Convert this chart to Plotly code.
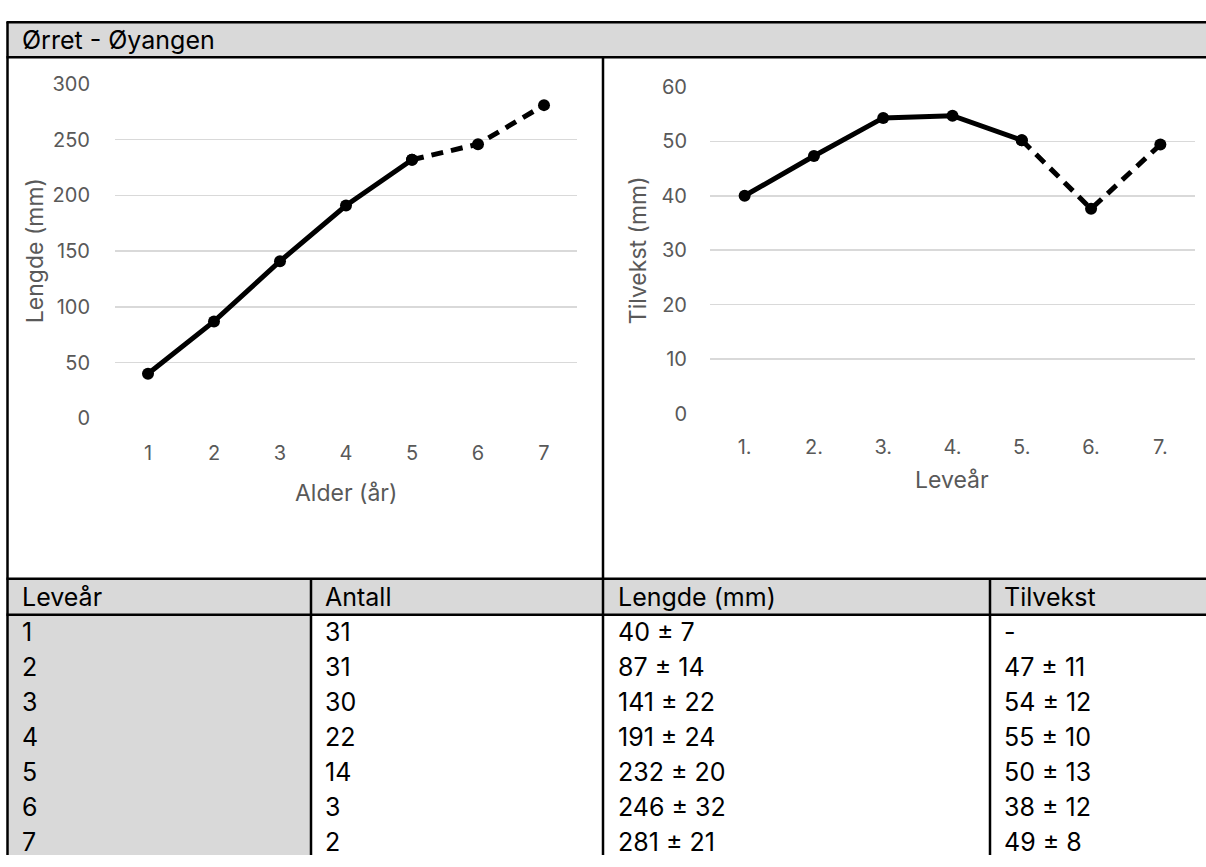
import plotly.graph_objects as go

# ---------------- data ----------------
title_text = "Ørret - Øyangen"
ages = [1, 2, 3, 4, 5, 6, 7]
age_labels = ["1", "2", "3", "4", "5", "6", "7"]
year_labels = ["1.", "2.", "3.", "4.", "5.", "6.", "7."]
length_mm = [40, 87, 141, 191, 232, 246, 281]
growth_mm = [40, 47.3, 54.3, 54.7, 50.2, 37.6, 49.4]
solid_n = 5  # first five points drawn solid, rest dashed

length_ticks = [0, 50, 100, 150, 200, 250, 300]
growth_ticks = [0, 10, 20, 30, 40, 50, 60]

table_header = ["Leveår", "Antall", "Lengde (mm)", "Tilvekst"]
col_year = ["1", "2", "3", "4", "5", "6", "7"]
col_count = ["31", "31", "30", "22", "14", "3", "2"]
col_length = ["40 ± 7", "87 ± 14", "141 ± 22", "191 ± 24", "232 ± 20", "246 ± 32", "281 ± 21"]
col_growth = ["-", "47 ± 11", "54 ± 12", "55 ± 10", "50 ± 13", "38 ± 12", "49 ± 8"]

# ---------------- layout helpers ----------------
W, H = 1206, 867
def X(px):
    return px / W
def Y(py):
    return 1 - py / H

GRID = "#d9d9d9"
TICK = "#595959"
CHART_FONT = "Inter"
TABLE_FONT = "Inter"
TABLE_SIZE = 25

fig = go.Figure()

def add_series(xvals, yvals, xa, ya):
    fig.add_trace(go.Scatter(
        x=xvals[:solid_n], y=yvals[:solid_n], mode="lines+markers",
        line=dict(color="black", width=5),
        marker=dict(color="black", size=12),
        xaxis=xa, yaxis=ya, showlegend=False, hoverinfo="x+y"))
    fig.add_trace(go.Scatter(
        x=xvals[solid_n - 1:], y=yvals[solid_n - 1:], mode="lines+markers",
        line=dict(color="black", width=5, dash="12px,8px"),
        marker=dict(color="black", size=12),
        xaxis=xa, yaxis=ya, showlegend=False, hoverinfo="x+y"))

add_series(ages, length_mm, "x", "y")
add_series(ages, growth_mm, "x2", "y2")

axis_common = dict(showline=False, zeroline=False,
                   gridcolor=GRID, gridwidth=1.5,
                   tickfont=dict(family=CHART_FONT, size=20, color=TICK),
                   ticks="outside", ticklen=0, tickcolor="rgba(0,0,0,0)",
                   fixedrange=True)

fig.update_layout(
    width=W, height=H,
    margin=dict(l=0, r=0, t=0, b=0),
    paper_bgcolor="white", plot_bgcolor="rgba(0,0,0,0)",
    xaxis=dict(domain=[X(115), X(577)], range=[0.5, 7.5], tickvals=ages,
               ticktext=age_labels, anchor="y", showgrid=False,
               ticklabelstandoff=17, **axis_common),
    yaxis=dict(domain=[Y(418), Y(74)], range=[0, 300], tickvals=length_ticks,
               anchor="x", showgrid=True, ticklabelstandoff=20, **axis_common),
    xaxis2=dict(domain=[X(710), X(1195)], range=[0.5, 7.5], tickvals=ages,
                ticktext=year_labels, anchor="y2", showgrid=False,
                ticklabelstandoff=15, **axis_common),
    yaxis2=dict(domain=[Y(413), Y(77)], range=[0, 60], tickvals=growth_ticks,
                anchor="x2", showgrid=True, ticklabelstandoff=18, **axis_common),
)

shapes = []
def rect(x0, y0, x1, y1, color):
    shapes.append(dict(type="rect", xref="paper", yref="paper",
                       x0=X(x0), x1=X(x1), y0=Y(y1), y1=Y(y0),
                       fillcolor=color, line=dict(width=0), layer="below"))
def line(x0, y0, x1, y1, w=2.5):
    shapes.append(dict(type="line", xref="paper", yref="paper",
                       x0=X(x0), x1=X(x1), y0=Y(y0), y1=Y(y1),
                       line=dict(color="black", width=w), layer="above"))

# gray fills
rect(8, 10.5, W, 46.5, "#d9d9d9")          # title bar
rect(8, 583, W, 620, "#d9d9d9")            # table header
rect(8, 620, 311, H, "#d9d9d9")            # first column

# borders
line(6.5, 10.5, W, 10.5)
line(6.5, 46.5, W, 46.5)
line(7.5, 10, 7.5, H)
line(603, 46.5, 603, H)
line(6.5, 583, W, 583)
line(6.5, 620, W, 620)
line(311, 583, 311, H)
line(990, 583, 990, H)

annotations = []
def text(px, py, s, size=TABLE_SIZE, color="black", family=TABLE_FONT, xanchor="left", angle=0):
    annotations.append(dict(xref="paper", yref="paper", x=X(px), y=Y(py),
                            text=s, showarrow=False, xanchor=xanchor, yanchor="middle",
                            textangle=angle,
                            font=dict(family=family, size=size, color=color)))

# title
text(20, 29, title_text)

# axis titles
text(35, 246, "Lengde (mm)", size=23, color=TICK, family=CHART_FONT, xanchor="center", angle=-90)
text(346, 495, "Alder (år)", size=23, color=TICK, family=CHART_FONT, xanchor="center")
text(638, 245, "Tilvekst (mm)", size=23, color=TICK, family=CHART_FONT, xanchor="center", angle=-90)
text(952, 481, "Leveår", size=23, color=TICK, family=CHART_FONT, xanchor="center")

# table
col_x = [20, 323, 616, 1002]
columns = [col_year, col_count, col_length, col_growth]
for cx, h in zip(col_x, table_header):
    text(cx, 601.5, h)
row_h = 36
for ci, col in enumerate(columns):
    for ri, val in enumerate(col):
        text(col_x[ci], 638 + ri * row_h, val)

fig.update_layout(shapes=shapes, annotations=annotations)

pin_page = ("var gd=document.getElementById('{plot_id}');"
            "document.body.style.margin='0';document.body.style.overflow='hidden';"
            "gd.style.position='fixed';gd.style.left='0px';gd.style.top='0px';")
fig.write_html("out.html", post_script=pin_page,
               config={"displayModeBar": False, "staticPlot": True})
